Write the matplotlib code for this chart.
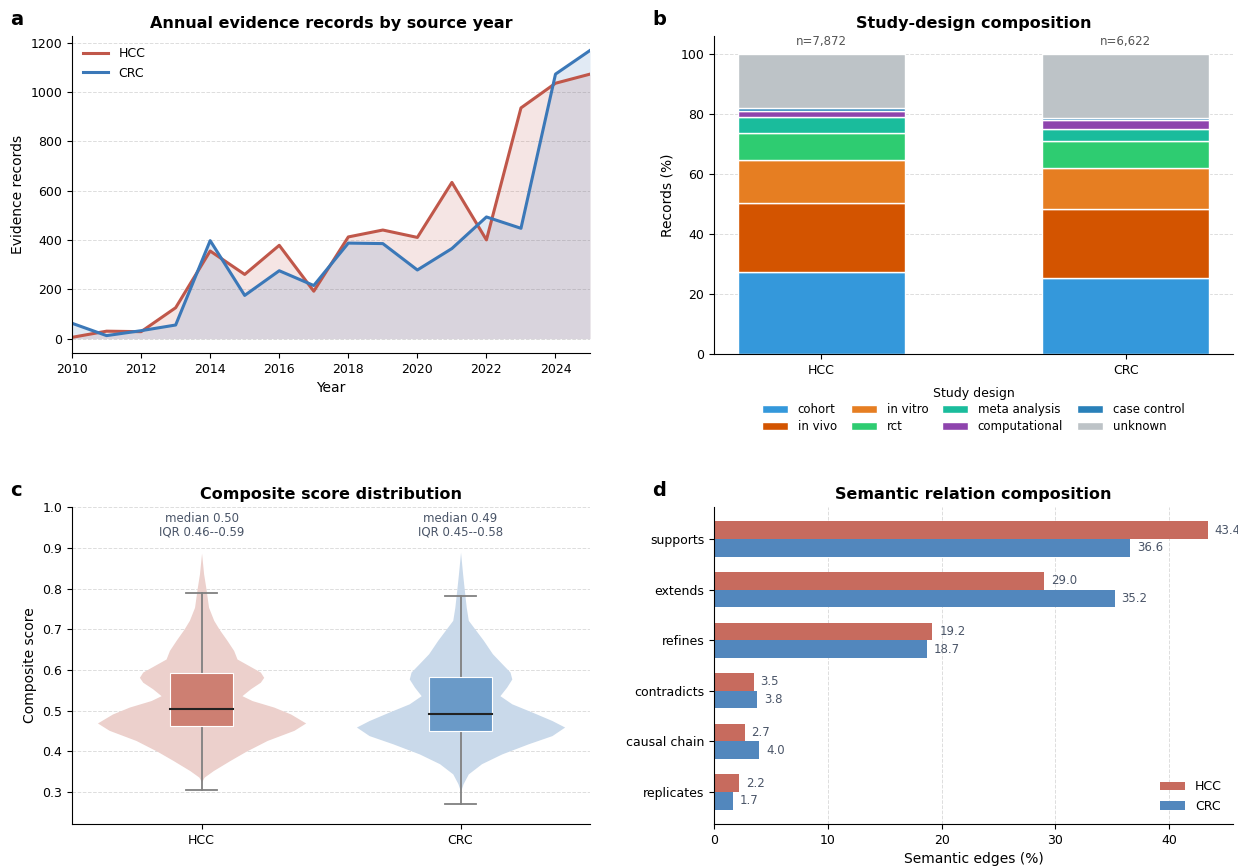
import numpy as np
import matplotlib.pyplot as plt

# ---- data -------------------------------------------------------------
years = list(range(2010, 2026))
hcc_records = [5, 30, 28, 125, 355, 260, 378, 192, 412, 440, 410, 633, 400, 935, 1035, 1072]
crc_records = [62, 12, 32, 55, 397, 175, 275, 215, 387, 385, 278, 365, 493, 447, 1072, 1168]

cohorts = ["HCC", "CRC"]
cohort_n = ["n=7,872", "n=6,622"]
designs = ["cohort", "in vivo", "in vitro", "rct", "meta analysis",
           "computational", "case control", "unknown"]
design_hcc = [27.3, 23.2, 14.1, 9.0, 5.4, 2.2, 0.7, 18.1]
design_crc = [25.3, 23.0, 13.7, 9.2, 3.8, 3.1, 0.5, 21.4]
design_colors = ["#3498db", "#d35400", "#e67e22", "#2ecc71", "#1abc9c",
                 "#8e44ad", "#2980b9", "#bdc3c7"]

# violin outlines: score level -> half width
viol_hcc_y = [0.325, 0.337, 0.353, 0.378, 0.40, 0.427, 0.452, 0.470, 0.492, 0.509,
              0.525, 0.537, 0.554, 0.570, 0.582, 0.595, 0.611, 0.627, 0.648, 0.673,
              0.70, 0.722, 0.754, 0.80, 0.836, 0.887]
viol_hcc_w = [0.0, 0.01, 0.045, 0.11, 0.17, 0.253, 0.357, 0.402, 0.344, 0.279,
              0.195, 0.156, 0.189, 0.227, 0.240, 0.227, 0.182, 0.137, 0.124, 0.098,
              0.068, 0.047, 0.027, 0.017, 0.008, 0.0]
viol_crc_y = [0.302, 0.321, 0.345, 0.370, 0.394, 0.419, 0.439, 0.460, 0.476, 0.497,
              0.517, 0.537, 0.558, 0.578, 0.595, 0.616, 0.640, 0.673, 0.70, 0.722,
              0.754, 0.80, 0.836, 0.889]
viol_crc_w = [0.0, 0.01, 0.03, 0.081, 0.159, 0.262, 0.353, 0.402, 0.353, 0.275,
              0.198, 0.152, 0.178, 0.198, 0.191, 0.159, 0.123, 0.088, 0.056, 0.030,
              0.022, 0.014, 0.008, 0.0]
# q1, median, q3, lower whisker, upper whisker
box_hcc = [0.463, 0.505, 0.593, 0.306, 0.790]
box_crc = [0.450, 0.491, 0.582, 0.272, 0.782]
score_notes = ["median 0.50\nIQR 0.46--0.59", "median 0.49\nIQR 0.45--0.58"]

relations = ["supports", "extends", "refines", "contradicts", "causal chain", "replicates"]
rel_hcc = [43.4, 29.0, 19.2, 3.5, 2.7, 2.2]
rel_crc = [36.6, 35.2, 18.7, 3.8, 4.0, 1.7]

HCC_C = "#c0574a"
CRC_C = "#3b78b8"
NOTE_C = "#4a5568"

plt.rcParams["font.family"] = "DejaVu Sans"
plt.rcParams["axes.spines.top"] = False
plt.rcParams["axes.spines.right"] = False

fig = plt.figure(figsize=(12.38, 8.66), dpi=100)
ax_a = fig.add_axes([0.0582, 0.5924, 0.4184, 0.366])
ax_b = fig.add_axes([0.5767, 0.5912, 0.4192, 0.367])
ax_c = fig.add_axes([0.0582, 0.0485, 0.4184, 0.366])
ax_d = fig.add_axes([0.5767, 0.0485, 0.4192, 0.366])

grid_kw = dict(color="#dddddd", linestyle="--", linewidth=0.7)

# ============================================
# a: annual records
# ============================================
ax_a.plot(years, hcc_records, color=HCC_C, linewidth=2.2, label="HCC")
ax_a.plot(years, crc_records, color=CRC_C, linewidth=2.2, label="CRC")
ax_a.fill_between(years, hcc_records, color=HCC_C, alpha=0.15, linewidth=0)
ax_a.fill_between(years, crc_records, color=CRC_C, alpha=0.15, linewidth=0)
ax_a.set_xlim(2010, 2025)
ax_a.set_xticks(range(2010, 2026, 2))
ax_a.set_yticks(range(0, 1201, 200))
ax_a.yaxis.grid(True, **grid_kw)
ax_a.set_axisbelow(True)
ax_a.set_xlabel("Year", fontsize=10)
ax_a.set_ylabel("Evidence records", fontsize=10)
ax_a.set_title("Annual evidence records by source year", fontsize=11.5, fontweight="bold")
ax_a.legend(loc="upper left", frameon=False, fontsize=9)

# ============================================
# b: study design stacks
# ============================================
x = np.arange(len(cohorts))
bottoms = np.zeros(len(cohorts))
for name, vh, vc, col in zip(designs, design_hcc, design_crc, design_colors):
    vals = np.array([vh, vc])
    ax_b.bar(x, vals, 0.55, bottom=bottoms, color=col, edgecolor="white",
             linewidth=1, label=name)
    bottoms += vals
for xi, n in zip(x, cohort_n):
    ax_b.text(xi, 102, n, ha="center", va="bottom", fontsize=8.5, color="#555555")
ax_b.set_ylim(0, 106)
ax_b.set_xticks(x)
ax_b.set_xticklabels(cohorts)
ax_b.yaxis.grid(True, **grid_kw)
ax_b.set_axisbelow(True)
ax_b.set_ylabel("Records (%)", fontsize=10)
ax_b.set_title("Study-design composition", fontsize=11.5, fontweight="bold")
ax_b.legend(loc="upper center", bbox_to_anchor=(0.5, -0.07), ncol=4, frameon=False,
            fontsize=8.5, title="Study design", title_fontsize=9,
            handlelength=2.2, columnspacing=1.2, labelspacing=0.3)

# ============================================
# c: composite score
# ============================================
violins = [(viol_hcc_y, viol_hcc_w, box_hcc, "#ecd0cc", "#cd7f72"),
           (viol_crc_y, viol_crc_w, box_crc, "#c9d9ea", "#6a9ac8")]
for pos, (vy, vw, bx, vcol, bcol) in enumerate(violins):
    vw = np.array(vw)
    ax_c.fill_betweenx(vy, pos - vw, pos + vw, color=vcol, linewidth=0, zorder=2)
    q1, med, q3, lo, hi = bx
    ax_c.plot([pos, pos], [lo, q1], color="#808080", linewidth=1.3, zorder=3)
    ax_c.plot([pos, pos], [q3, hi], color="#808080", linewidth=1.3, zorder=3)
    ax_c.plot([pos - 0.06, pos + 0.06], [lo, lo], color="#808080", linewidth=1.3, zorder=3)
    ax_c.plot([pos - 0.06, pos + 0.06], [hi, hi], color="#808080", linewidth=1.3, zorder=3)
    ax_c.add_patch(plt.Rectangle((pos - 0.12, q1), 0.24, q3 - q1, facecolor=bcol,
                                 edgecolor="white", linewidth=0.8, zorder=4))
    ax_c.plot([pos - 0.12, pos + 0.12], [med, med], color="#222222", linewidth=1.5, zorder=5)
    ax_c.text(pos, 0.955, score_notes[pos], ha="center", va="center", fontsize=8.5,
              color=NOTE_C, linespacing=1.1)
ax_c.set_xlim(-0.5, 1.5)
ax_c.set_ylim(0.222, 1.0)
ax_c.set_xticks([0, 1])
ax_c.set_xticklabels(cohorts)
ax_c.set_yticks(np.arange(0.3, 1.01, 0.1))
ax_c.yaxis.grid(True, **grid_kw)
ax_c.set_axisbelow(True)
ax_c.set_ylabel("Composite score", fontsize=10)
ax_c.set_title("Composite score distribution", fontsize=11.5, fontweight="bold")

# ============================================
# d: semantic relations
# ============================================
y = np.arange(len(relations))
h = 0.35
ax_d.barh(y - h / 2, rel_hcc, h, color="#c76b5e", label="HCC")
ax_d.barh(y + h / 2, rel_crc, h, color="#5287bd", label="CRC")
for yi, vh, vc in zip(y, rel_hcc, rel_crc):
    ax_d.text(vh + 0.6, yi - h / 2, f"{vh:.1f}", va="center", fontsize=8.5, color=NOTE_C)
    ax_d.text(vc + 0.6, yi + h / 2, f"{vc:.1f}", va="center", fontsize=8.5, color=NOTE_C)
ax_d.set_yticks(y)
ax_d.set_yticklabels(relations)
ax_d.invert_yaxis()
ax_d.set_xlim(0, 45.6)
ax_d.xaxis.grid(True, **grid_kw)
ax_d.set_axisbelow(True)
ax_d.set_xlabel("Semantic edges (%)", fontsize=10)
ax_d.set_title("Semantic relation composition", fontsize=11.5, fontweight="bold")
ax_d.legend(loc="lower right", frameon=False, fontsize=9)

for ax in (ax_a, ax_b, ax_c, ax_d):
    ax.tick_params(labelsize=9)

for lab, (fx, fy) in zip("abcd", [(0.008, 0.977), (0.527, 0.977), (0.008, 0.434), (0.527, 0.434)]):
    fig.text(fx, fy, lab, fontsize=14, fontweight="bold", va="center")

fig.savefig("out.png", dpi=100)
